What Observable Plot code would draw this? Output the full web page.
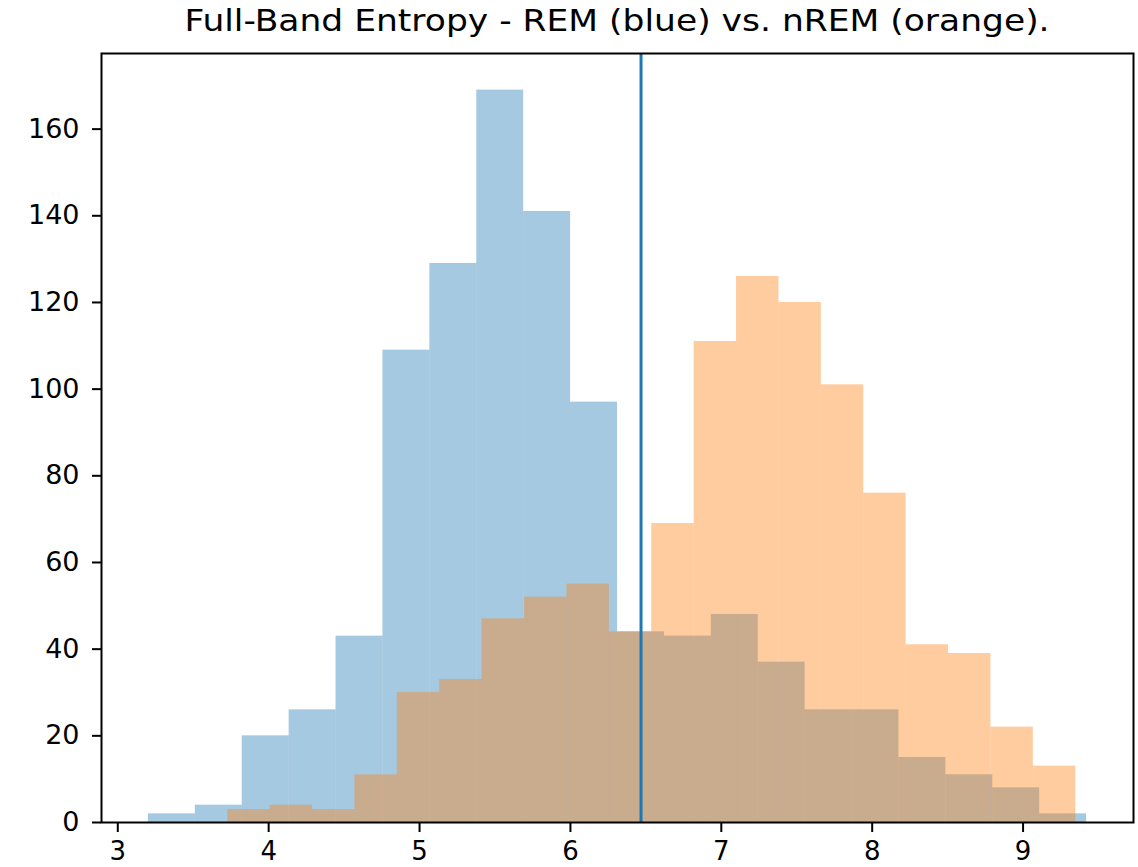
<!DOCTYPE html>
<html>
<head>
<meta charset="utf-8">
<script src="https://cdn.jsdelivr.net/npm/d3@7"></script>
<script src="https://cdn.jsdelivr.net/npm/@observablehq/plot@0.6"></script>
<style>
  html, body { margin: 0; padding: 0; background: #fff; }
  #wrap { width: 1138px; height: 867px; position: relative; font-family: "DejaVu Sans", sans-serif; overflow: hidden; }
  #title { position: absolute; left: 101px; width: 1032px; top: 2px; height: 34.5px; line-height: 34.5px;
           text-align: center; font-size: 34.5px; color: #000; white-space: nowrap;
           transform: scaleY(0.86); transform-origin: 50% 29.2px; }
  #chart { position: absolute; left: 0; top: 48px; }
</style>
</head>
<body>
<div id="wrap">
  <div id="title">Full-Band Entropy - REM (blue) vs. nREM (orange).</div>
  <div id="chart"></div>
</div>
<script>
// REM histogram (blue): 20 equal bins over [remMin, remMax]
const remMin = 3.203, remMax = 9.421;
const remCounts = [2, 4, 20, 26, 43, 109, 129, 169, 141, 97, 44, 43, 48, 37, 26, 26, 15, 11, 8, 2];
// nREM histogram (orange): 20 equal bins over [nremMin, nremMax]
const nremMin = 3.729, nremMax = 9.349;
const nremCounts = [3, 4, 3, 11, 30, 33, 47, 52, 55, 44, 69, 111, 126, 120, 101, 76, 41, 39, 22, 13];
// threshold line
const threshold = [6.468];
// tick labels
const xTicks = [3, 4, 5, 6, 7, 8, 9];
const yTicks = [0, 20, 40, 60, 80, 100, 120, 140, 160];

function bins(min, max, counts) {
  const w = (max - min) / counts.length;
  return counts.map((c, i) => ({x1: min + i * w, x2: min + (i + 1) * w, y: c}));
}
const remData = bins(remMin, remMax, remCounts);
const nremData = bins(nremMin, nremMax, nremCounts);

const lo = Math.min(remMin, nremMin), hi = Math.max(remMax, nremMax);
const pad = (hi - lo) * 0.05;
const yMax = Math.max(...remCounts, ...nremCounts) * 1.05;

const chart = Plot.plot({
  width: 1138,
  height: 819,
  marginTop: 5,
  marginBottom: 45,
  marginLeft: 101,
  marginRight: 5,
  style: {fontFamily: "DejaVu Sans, sans-serif", fontSize: "26px", color: "#000", background: "#fff"},
  x: {domain: [lo - pad, hi + pad]},
  y: {domain: [0, yMax]},
  marks: [
    Plot.rectY(remData, {x1: "x1", x2: "x2", y: "y", fill: "#1f77b4", fillOpacity: 0.4, inset: 0}),
    Plot.rectY(nremData, {x1: "x1", x2: "x2", y: "y", fill: "#ff7f0e", fillOpacity: 0.4, inset: 0}),
    Plot.ruleX(threshold, {stroke: "#1f77b4", strokeWidth: 3}),
    Plot.frame({stroke: "#000", strokeWidth: 2}),
    Plot.axisX({ticks: xTicks, tickSize: 10, tickPadding: 9, strokeWidth: 2, stroke: "#000", label: null, tickFormat: d => String(d), fontSize: 26}),
    Plot.axisY({ticks: yTicks, tickSize: 9, tickPadding: 13, strokeWidth: 2, stroke: "#000", label: null, tickFormat: d => String(d), fontSize: 27})
  ]
});
document.getElementById("chart").appendChild(chart);
</script>
</body>
</html>
